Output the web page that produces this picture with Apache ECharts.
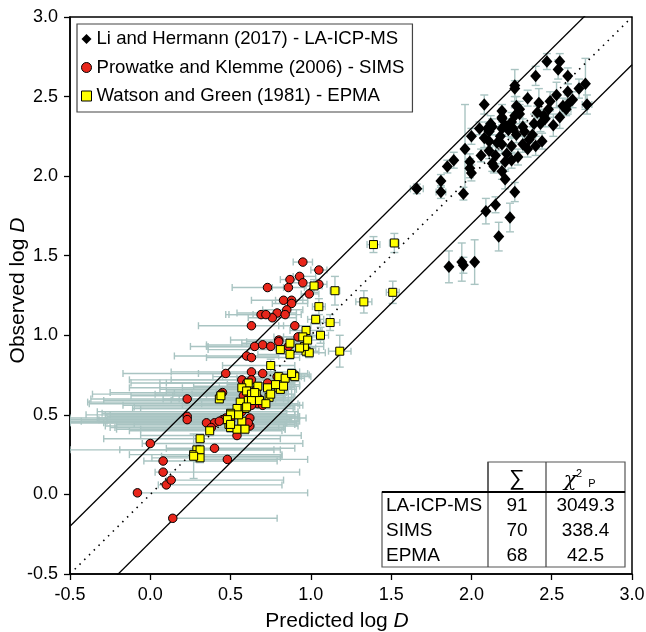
<!DOCTYPE html>
<html><head><meta charset="utf-8">
<script src="https://cdn.jsdelivr.net/npm/echarts@6/dist/echarts.min.js"></script>
<style>html,body{margin:0;padding:0;background:#fff}#c{width:646px;height:632px}</style>
</head><body><div id="c"></div>
<script>
// LA-ICP-MS: [x, y, yErr, xErr]
const laIcpMs = [
[2.47,2.72,0.05,0],[2.55,2.72,0.05,0],[2.54,2.67,0.06,0],[2.40,2.63,0.06,0],[2.60,2.63,0.05,0],
[2.27,2.57,0.10,0],[2.35,2.49,0.05,0],[2.08,2.45,0.06,0],[2.19,2.41,0.04,0],[2.28,2.44,0.06,0],
[2.30,2.42,0.05,0],[2.42,2.46,0.09,0],[2.49,2.47,0.06,0],[2.53,2.51,0.08,0],[2.60,2.53,0.05,0],
[2.67,2.55,0.06,0],[2.71,2.58,0.16,0],[2.63,2.48,0.05,0],[2.60,2.45,0.06,0],[2.59,2.42,0.04,0.03],
[2.72,2.45,0.06,0.03],[2.48,2.42,0.05,0],[2.45,2.38,0.04,0],[2.41,2.40,0.04,0],[2.55,2.37,0.07,0],
[2.27,2.38,0.05,0],[2.19,2.36,0.04,0],[2.25,2.34,0.06,0],[2.21,2.32,0.04,0],[2.12,2.33,0.05,0],
[2.05,2.30,0.04,0],[2.10,2.30,0.04,0],[2.13,2.31,0.05,0],[2.19,2.30,0.04,0],[2.26,2.30,0.06,0],
[2.32,2.31,0.05,0],[2.39,2.33,0.06,0],[2.43,2.33,0.05,0],[2.51,2.32,0.07,0],[2.00,2.25,0.05,0],
[2.08,2.24,0.06,0],[2.11,2.22,0.04,0],[2.18,2.25,0.06,0],[2.28,2.26,0.05,0],[2.33,2.28,0.06,0],
[2.36,2.23,0.05,0],[2.19,2.20,0.06,0],[2.25,2.19,0.05,0],[2.35,2.17,0.05,0],[2.40,2.19,0.06,0],
[2.44,2.22,0.05,0],[1.96,2.17,0.28,0],[2.11,2.16,0.05,0],[2.15,2.13,0.06,0],[2.22,2.14,0.05,0],
[1.89,2.10,0.05,0],[1.85,2.06,0.04,0],[1.99,2.09,0.05,0],[1.99,2.05,0.06,0],[2.13,2.08,0.05,0],
[2.14,2.06,0.04,0],[2.21,2.09,0.06,0],[2.25,2.10,0.05,0],[2.19,2.03,0.05,0],[2.21,1.98,0.06,0],
[1.66,1.92,0.03,0.04],[1.81,1.97,0.04,0],[1.81,1.90,0.04,0.03],[1.95,1.89,0.04,0],[2.27,1.90,0.06,0],
[2.15,1.82,0.05,0],[2.09,1.78,0.08,0],[2.24,1.74,0.09,0],[2.17,1.62,0.09,0],[1.86,1.43,0.10,0],
[1.94,1.46,0.12,0],[1.95,1.44,0.05,0],[2.02,1.46,0.14,0],
[2.27,2.55,0.05,0],[2.19,2.37,0.05,0],[2.30,2.39,0.06,0],[2.11,2.28,0.05,0],[2.23,2.29,0.04,0],
[2.16,2.21,0.05,0],[2.32,2.20,0.05,0],[2.06,2.13,0.04,0],[2.29,2.12,0.05,0],[2.46,2.36,0.05,0],
[2.57,2.44,0.05,0],[2.38,2.26,0.05,0],[2.00,2.02,0.05,0]
];
// SIMS: [x, y, xErrLeft, xErrRight, yErr]
const sims = [
[0.95,1.46,.06,.06,0],[1.05,1.41,.05,.05,0],[0.93,1.37,.04,.10,0],[0.87,1.35,.06,.08,0],[0.95,1.33,.08,.08,0],
[1.05,1.32,.05,.05,0],[0.73,1.30,.22,.10,0],[0.86,1.30,.10,.10,0],[0.99,1.26,.05,.06,0],[0.83,1.22,.20,.12,0],
[0.88,1.22,.10,.10,0],[0.88,1.20,.12,.10,0],[0.85,1.16,.15,.10,0],[0.79,1.14,.25,.12,0],[0.84,1.13,.20,.10,0],
[0.76,1.11,.15,.15,0],[0.69,1.13,.20,.10,0],[0.72,1.13,.25,.10,0],[0.63,1.06,.33,.20,0],[0.90,1.06,.10,.10,0],
[0.92,0.99,.15,.08,0],[0.80,0.97,.30,.10,0],[0.80,0.96,.20,.15,0],[0.65,0.93,.40,.05,0],[0.70,0.94,.35,.20,0],
[0.75,0.93,.40,.14,0],[0.86,0.93,.50,.05,0],[0.60,0.87,.45,.20,0],[0.63,0.86,.28,.30,0],[0.47,0.76,.64,.30,0],
[0.63,0.77,.50,.30,0],[0.70,0.76,.40,.20,0],[0.57,0.72,.70,.30,0],[0.63,0.72,.50,.25,0],[0.73,0.70,.85,.16,0],
[0.45,0.64,.70,.35,0],[0.44,0.63,.80,.30,0],[0.23,0.60,.60,.60,0],[0.67,0.57,1.05,.20,0],[0.23,0.49,.50,.70,0],
[0.23,0.47,.73,.64,0],[0.40,0.45,.90,.50,0],[0.45,0.47,.95,.42,0],[0.47,0.48,.80,.50,0],[0.62,0.48,1.12,.30,0],
[0.57,0.52,.90,.35,0],[0.62,0.43,.90,.30,0],[0.54,0.37,.60,.40,0],[0.35,0.45,.85,.50,0],[0.38,0.42,.60,.45,0],
[0.40,0.29,.30,.50,0],[0.48,0.22,.20,.50,0],[0.00,0.32,.05,.95,0],[0.08,0.21,.12,.71,0],[0.08,0.14,.05,.85,0],
[0.10,0.06,.05,.72,0],[0.13,0.09,.03,.70,0],[-0.08,0.01,.02,1.06,0],[0.14,-0.15,.02,.65,0],[0.52,0.50,.80,.40,0],
[0.58,0.62,.70,.25,0],[0.66,0.66,.60,.20,0],[0.60,0.70,.50,.30,0],[0.79,0.74,.40,.15,0],[0.63,0.56,.80,.30,0],
[0.50,0.46,1.00,.40,0],[0.70,0.56,.50,.25,0],[0.43,0.46,.70,.50,0],[0.61,0.45,.90,.30,0],[0.68,0.60,.60,.20,0]
];
// EPMA: [x, y, xErrLeft, xErrRight, yErr]
const epma = [
[1.39,1.57,.04,.04,.05],[1.52,1.58,.03,.03,.06],[1.51,1.27,.04,.04,.07],[1.33,1.21,.05,.05,.07],[1.15,1.28,.03,.03,.09],
[1.02,1.31,.05,.05,.04],[1.05,1.18,.04,.04,.05],[1.03,1.10,.05,.05,.03],[1.12,1.08,.06,.06,.05],[0.97,1.03,.10,.10,.03],
[1.06,1.00,.05,.05,.05],[0.95,0.99,.12,.10,.03],[0.87,0.95,.30,.10,.03],[0.97,0.90,.15,.08,.03],[0.99,0.89,.10,.10,.03],
[0.81,0.91,.45,.12,.03],[0.87,0.88,.20,.10,.03],[0.96,0.93,.12,.12,.03],[0.93,0.92,.15,.10,.03],[1.18,0.90,.07,.07,.10],
[0.75,0.81,.30,.15,.04],[0.80,0.74,.35,.10,.03],[0.89,0.75,.20,.10,.03],[0.90,0.74,.20,.10,.03],[0.80,0.67,.60,.10,.03],
[0.81,0.66,.40,.10,.03],[0.73,0.67,.30,.15,.03],[0.67,0.68,.40,.20,.03],[0.61,0.70,.55,.20,.03],[0.57,0.67,.70,.25,.03],
[0.43,0.60,.25,.35,.03],[0.60,0.65,.50,.20,.03],[0.63,0.63,.60,.25,.03],[0.66,0.63,.40,.20,.03],[0.74,0.61,.30,.15,.03],
[0.61,0.59,.90,.25,.03],[0.68,0.59,.45,.20,.03],[0.56,0.58,.95,.30,.03],[0.72,0.57,.40,.20,.03],[0.59,0.54,.70,.30,.03],
[0.54,0.54,.60,.30,.03],[0.50,0.51,.80,.35,.03],[0.50,0.50,.90,.40,.03],[0.57,0.46,1.00,.35,.03],[0.49,0.44,.70,.35,.03],
[0.50,0.42,.75,.30,.03],[0.54,0.41,.60,.30,.03],[0.59,0.41,.80,.25,.03],[0.37,0.40,.50,.45,.03],[0.31,0.35,.60,.50,.03],
[0.29,0.28,.79,.48,.03],[0.27,0.25,.40,.55,.03],[0.31,0.28,.50,.50,.03],[0.31,0.23,.30,.50,.03],[0.27,0.24,.20,.55,.14],
[0.48,0.47,.80,.40,.03],[0.50,0.44,.60,.40,.03],[0.63,0.59,.50,.25,.03],[0.65,0.64,.50,.20,.03],[0.78,0.69,.30,.15,.03],
[0.84,0.73,.30,.12,.03],[0.88,0.76,.25,.10,.03],[0.75,0.63,.40,.15,.03],[0.60,0.55,.70,.30,.03],[0.44,0.62,.30,.40,.03],
[0.83,0.68,.35,.10,.03],[0.98,0.97,.10,.10,.03],[0.55,0.50,.80,.35,.03]
];
const seriesNames = ['Li and Hermann (2017) - LA-ICP-MS', 'Prowatke and Klemme (2006) - SIMS', 'Watson and Green (1981) - EPMA'];
const refOffsets = [0, 0.3, -0.3];
const xRange = [-0.5, 3.0];
const yRange = [-0.5, 3.0];
const tickStep = 0.5;
const tableColHeads = ['∑', 'χ', '2', 'P'];
const tableRows = [['LA-ICP-MS', '91', '3049.3'], ['SIMS', '70', '338.4'], ['EPMA', '68', '42.5']];

const FONT = 'Liberation Sans';
const ERR = '#a9c4c2';

function errSeries(name, data) {
  return {
    type: 'custom', name: name, data: data, z: 1, clip: true, silent: true,
    encode: { x: 0, y: 1 },
    renderItem: function (params, api) {
      const x = api.value(0), y = api.value(1), xl = api.value(2), xr = api.value(3), ye = api.value(4);
      const c = api.coord([x, y]);
      const st = { stroke: ERR, lineWidth: 1.4, fill: null };
      const ch = [];
      const cap = 3.5;
      if (xl > 0 || xr > 0) {
        const l = api.coord([x - xl, y])[0], r = api.coord([x + xr, y])[0];
        ch.push({ type: 'line', shape: { x1: l, y1: c[1], x2: r, y2: c[1] }, style: st });
        ch.push({ type: 'line', shape: { x1: l, y1: c[1] - cap, x2: l, y2: c[1] + cap }, style: st });
        ch.push({ type: 'line', shape: { x1: r, y1: c[1] - cap, x2: r, y2: c[1] + cap }, style: st });
      }
      if (ye > 0) {
        const t = api.coord([x, y + ye])[1], b = api.coord([x, y - ye])[1];
        ch.push({ type: 'line', shape: { x1: c[0], y1: t, x2: c[0], y2: b }, style: st });
        ch.push({ type: 'line', shape: { x1: c[0] - 4, y1: t, x2: c[0] + 4, y2: t }, style: st });
        ch.push({ type: 'line', shape: { x1: c[0] - 4, y1: b, x2: c[0] + 4, y2: b }, style: st });
      }
      return { type: 'group', children: ch };
    }
  };
}

const laErr = laIcpMs.map(d => [d[0], d[1], d[3], d[3], d[2]]);

const refSeries = refOffsets.map(o => ({
  type: 'line', silent: true, symbol: 'none', z: 2, clip: true,
  data: [[xRange[0], xRange[0] + o], [xRange[1], xRange[1] + o]],
  lineStyle: o === 0 ? { color: '#000', width: 1.6, type: [1.5, 5.2] } : { color: '#000', width: 1.3 }
}));

const chart = echarts.init(document.getElementById('c'), null, { renderer: 'canvas' });

const tL = 382, tC1 = 488, tC2 = 546, tR = 625, tTop = 462, tHead = 492, tBot = 567;
const rowH = (tBot - tHead) / 3;
const gfx = [
  { type: 'rect', shape: { x: tC1, y: tTop, width: tR - tC1, height: tHead - tTop }, style: { fill: '#fff', stroke: '#555', lineWidth: 1.2 }, z: 10 },
  { type: 'rect', shape: { x: tL, y: tHead, width: tR - tL, height: tBot - tHead }, style: { fill: '#fff', stroke: '#555', lineWidth: 1.2 }, z: 10 },
  { type: 'line', shape: { x1: tC1, y1: tTop, x2: tC1, y2: tBot }, style: { stroke: '#444', lineWidth: 1.2 }, z: 11 },
  { type: 'line', shape: { x1: tC2, y1: tTop, x2: tC2, y2: tBot }, style: { stroke: '#444', lineWidth: 1.2 }, z: 11 },
  { type: 'line', shape: { x1: tL, y1: tHead, x2: tR, y2: tHead }, style: { stroke: '#000', lineWidth: 2 }, z: 11 },
  { type: 'text', x: (tC1 + tC2) / 2, y: 479, style: { text: tableColHeads[0], font: '22px ' + FONT, fill: '#000', align: 'center', verticalAlign: 'middle' }, z: 12 },
  { type: 'text', x: 570, y: 481, style: { text: tableColHeads[1], font: 'italic 21px "DejaVu Serif"', fill: '#000', align: 'center', verticalAlign: 'middle' }, z: 12 },
  { type: 'text', x: 579, y: 474, style: { text: tableColHeads[2], font: '11px ' + FONT, fill: '#000', align: 'center', verticalAlign: 'middle' }, z: 12 },
  { type: 'text', x: 592, y: 484, style: { text: tableColHeads[3], font: '11px ' + FONT, fill: '#000', align: 'center', verticalAlign: 'middle' }, z: 12 }
];
tableRows.forEach((r, i) => {
  const cy = tHead + rowH * (i + 0.5) + 1;
  gfx.push({ type: 'text', x: tL + 4, y: cy, style: { text: r[0], font: '19px ' + FONT, fill: '#000', align: 'left', verticalAlign: 'middle' }, z: 12 });
  gfx.push({ type: 'text', x: (tC1 + tC2) / 2, y: cy, style: { text: r[1], font: '19px ' + FONT, fill: '#000', align: 'center', verticalAlign: 'middle' }, z: 12 });
  gfx.push({ type: 'text', x: (tC2 + tR) / 2, y: cy, style: { text: r[2], font: '19px ' + FONT, fill: '#000', align: 'center', verticalAlign: 'middle' }, z: 12 });
});

const axisCommon = {
  type: 'value', interval: tickStep,
  axisLine: { show: true, onZero: false, lineStyle: { color: '#000', width: 1.5 } },
  axisTick: { show: true, inside: false, length: 6, lineStyle: { color: '#000', width: 1.3 } },
  axisLabel: { color: '#000', fontSize: 18, fontFamily: FONT, margin: 12, formatter: v => v.toFixed(1), showMinLabel: true, showMaxLabel: true },
  splitLine: { show: false },
  nameMoveOverlap: false
};

chart.setOption({
  animation: false,
  backgroundColor: '#fff',
  grid: { left: 70, right: 14, top: 17, bottom: 58, show: true, borderColor: '#000', borderWidth: 1.5, outerBoundsMode: 'none', containLabel: false },
  xAxis: Object.assign({}, axisCommon, {
    min: xRange[0], max: xRange[1],
    name: '{n|Predicted log }{i|D}', nameLocation: 'middle', nameGap: 37,
    nameTextStyle: { padding: [0, 28, 0, 0], rich: { n: { fontSize: 21, fontFamily: FONT, color: '#000' }, i: { fontSize: 21, fontFamily: FONT, fontStyle: 'italic', color: '#000' } } }
  }),
  yAxis: Object.assign({}, axisCommon, {
    min: yRange[0], max: yRange[1],
    name: '{n|Observed log }{i|D}', nameLocation: 'middle', nameGap: 41, nameRotate: 90,
    nameTextStyle: { padding: [0, 0, 0, 10], rich: { n: { fontSize: 21, fontFamily: FONT, color: '#000' }, i: { fontSize: 21, fontFamily: FONT, fontStyle: 'italic', color: '#000' } } }
  }),
  legend: {
    show: true, orient: 'vertical', left: 77, top: 24,
    padding: [5, 8, 6, 4], itemGap: 8.5, itemWidth: 10, itemHeight: 10,
    borderColor: '#444', borderWidth: 1.2, backgroundColor: '#fff',
    textStyle: { fontSize: 18.6, fontFamily: FONT, color: '#000', lineHeight: 20 },
    selectedMode: false,
    data: [
      { name: seriesNames[0], icon: 'diamond', itemStyle: { color: '#000', borderWidth: 0 } },
      { name: seriesNames[1], icon: 'circle', itemStyle: { color: '#e8261b', borderColor: '#000', borderWidth: 1 } },
      { name: seriesNames[2], icon: 'rect', itemStyle: { color: '#ffff00', borderColor: '#000', borderWidth: 1 } }
    ]
  },
  graphic: gfx,
  series: [
    errSeries('laErr', laErr),
    errSeries('simsErr', sims),
    errSeries('epmaErr', epma)
  ].concat(refSeries).concat([
    { name: seriesNames[1], type: 'scatter', z: 3, data: sims.map(d => [d[0], d[1]]), symbol: 'circle', symbolSize: 8.5,
      itemStyle: { color: '#e8261b', borderColor: '#000', borderWidth: 1, opacity: 1 } },
    { name: seriesNames[2], type: 'scatter', z: 4, data: epma.map(d => [d[0], d[1]]), symbol: 'rect', symbolSize: 8,
      itemStyle: { color: '#ffff00', borderColor: '#000', borderWidth: 1, opacity: 1 } },
    { name: seriesNames[0], type: 'scatter', z: 5, data: laIcpMs.map(d => [d[0], d[1]]), symbol: 'diamond', symbolSize: [11, 12.5],
      itemStyle: { color: '#000', opacity: 1 } }
  ])
});
</script>
</body></html>
